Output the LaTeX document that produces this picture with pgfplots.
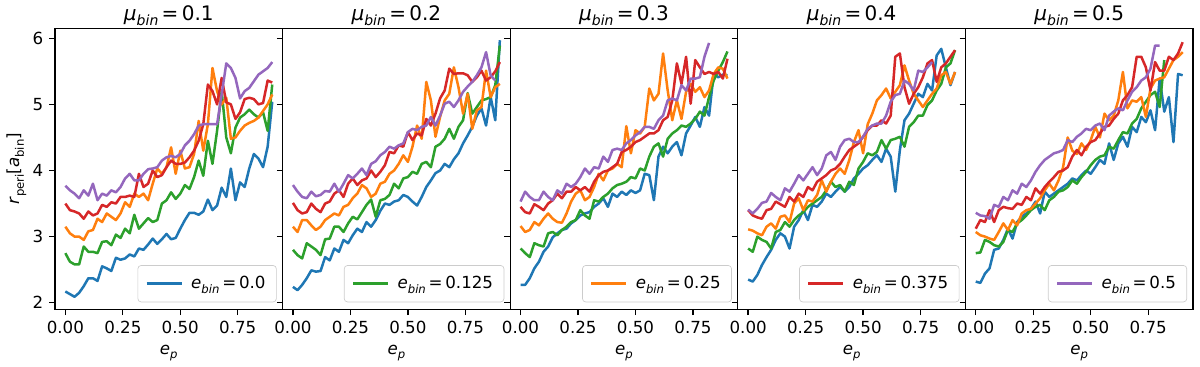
\documentclass[border=0pt]{standalone}
\usepackage{fontspec}
\setmainfont{DejaVu Sans}
\usepackage{graphicx}
\usepackage{pgfplots}
\usepackage{pgfplotstable}
\pgfplotsset{compat=1.18}
\usepgfplotslibrary{groupplots}
\usetikzlibrary{calc}

\definecolor{cb}{HTML}{1F77B4}
\definecolor{co}{HTML}{FF7F0E}
\definecolor{cg}{HTML}{2CA02C}
\definecolor{cr}{HTML}{D62728}
\definecolor{cp}{HTML}{9467BD}

\newcommand{\sub}[1]{\raisebox{-0.5ex}{\scalebox{0.7}{#1}}}
\newcommand{\ebin}[1]{\textit{e}\sub{\textit{bin}}\,=\,#1}
\newcommand{\mubin}[1]{\textit{μ}\sub{\textit{bin}}\,=\,#1}

% columns: e_p, then r_peri for e_bin = 0.0 (b), 0.125 (g), 0.25 (o), 0.375 (r), 0.5 (p)
\pgfplotstableread{
x b g o r p
0.00 2.17 2.75 3.15 3.50 3.77
0.02 2.13 2.62 3.05 3.40 3.70
0.04 2.09 2.58 3.00 3.38 3.65
0.06 2.15 2.58 3.00 3.35 3.58
0.08 2.25 2.85 2.95 3.27 3.70
0.10 2.37 2.77 3.08 3.38 3.62
0.12 2.37 2.77 3.10 3.32 3.80
0.14 2.33 2.75 3.27 3.35 3.55
0.16 2.55 2.92 3.22 3.48 3.65
0.18 2.52 2.93 3.35 3.45 3.62
0.20 2.48 2.87 3.30 3.52 3.70
0.22 2.68 3.03 3.25 3.50 3.67
0.24 2.65 2.98 3.35 3.60 3.75
0.26 2.67 3.12 3.52 3.60 3.88
0.28 2.73 3.05 3.45 3.62 3.95
0.30 2.70 3.33 3.65 3.60 3.85
0.32 2.82 3.12 3.60 3.95 3.85
0.34 2.80 3.20 3.65 3.75 3.95
0.36 2.88 3.28 3.55 3.80 4.02
0.38 2.97 3.22 3.80 4.00 4.03
0.40 2.89 3.25 4.03 3.90 4.05
0.42 2.96 3.50 3.95 3.93 4.15
0.44 3.04 3.55 4.05 4.05 4.20
0.46 2.96 3.67 4.35 4.15 4.22
0.48 2.98 3.57 3.95 4.10 4.20
0.50 3.12 3.65 4.30 4.10 4.25
0.52 3.25 3.78 4.03 4.12 4.38
0.54 3.36 3.72 4.05 4.20 4.45
0.56 3.36 3.90 4.25 4.30 4.55
0.58 3.33 4.15 4.75 4.45 4.68
0.60 3.38 3.92 4.30 4.70 4.70
0.62 3.56 4.45 4.70 5.30 4.70
0.64 3.40 4.10 5.55 5.20 4.70
0.66 3.47 4.60 5.20 5.00 4.70
0.68 3.74 5.20 5.00 5.40 5.15
0.70 3.60 4.50 5.10 5.03 5.62
0.72 4.03 4.26 4.48 5.00 5.55
0.74 3.55 4.65 4.50 4.78 5.40
0.76 3.82 4.80 4.60 4.88 5.09
0.78 3.75 4.85 4.68 5.08 5.20
0.80 4.03 4.92 4.72 5.10 5.25
0.82 4.25 4.85 4.75 5.08 5.35
0.84 4.18 4.80 4.80 5.00 5.45
0.86 4.05 4.88 4.90 5.02 5.50
0.88 4.36 4.60 5.00 5.36 5.55
0.90 5.04 5.30 5.15 5.33 5.64
}\muA

\pgfplotstableread{
x b g o r p
0.00 2.24 2.80 3.15 3.51 3.78
0.02 2.19 2.72 3.07 3.40 3.68
0.04 2.27 2.67 3.25 3.35 3.60
0.06 2.37 2.90 3.25 3.37 3.58
0.08 2.49 2.85 3.17 3.50 3.68
0.10 2.47 2.80 3.10 3.42 3.61
0.12 2.48 2.72 3.15 3.37 3.63
0.14 2.69 2.96 3.25 3.50 3.69
0.16 2.64 2.97 3.30 3.53 3.68
0.18 2.82 3.15 3.35 3.65 3.80
0.20 2.77 3.15 3.32 3.70 3.68
0.22 2.95 3.07 3.45 3.60 3.80
0.24 2.90 3.20 3.48 3.80 3.93
0.26 3.02 3.30 3.58 3.88 3.88
0.28 3.12 3.26 3.65 3.78 3.95
0.30 3.07 3.37 3.78 3.85 4.03
0.32 3.22 3.48 3.73 3.88 3.93
0.34 3.15 3.56 3.60 4.00 4.10
0.36 3.25 3.30 3.65 3.90 4.14
0.38 3.39 3.55 3.80 3.98 4.23
0.40 3.50 3.57 3.83 4.08 4.28
0.42 3.48 3.63 3.95 4.28 4.36
0.44 3.53 3.80 4.00 4.26 4.33
0.46 3.55 3.73 4.10 4.38 4.38
0.48 3.63 3.88 4.23 4.36 4.41
0.50 3.60 3.90 4.13 4.58 4.58
0.52 3.53 3.98 4.36 4.46 4.63
0.54 3.47 3.95 4.68 4.56 4.61
0.56 3.60 4.10 4.48 4.53 4.66
0.58 3.75 4.13 5.34 4.78 4.68
0.60 3.85 4.05 5.06 4.68 4.81
0.62 3.96 4.36 4.51 4.86 4.68
0.64 4.00 4.40 4.81 5.09 4.83
0.66 4.10 4.48 5.06 5.21 5.01
0.68 4.05 4.63 5.16 5.54 5.04
0.70 4.17 4.48 5.56 5.46 4.96
0.72 4.26 4.66 5.26 5.47 5.06
0.74 4.41 4.76 4.86 5.47 5.19
0.76 4.53 5.17 5.16 5.44 5.27
0.78 4.66 4.86 4.63 5.34 5.34
0.80 4.83 4.96 4.91 5.41 5.44
0.82 4.94 5.06 4.96 5.51 5.56
0.84 4.68 5.08 5.51 5.36 5.79
0.86 5.11 5.11 5.11 5.41 5.44
0.88 4.76 5.29 5.26 5.50 5.36
0.90 5.97 5.89 5.31 5.64 nan
}\muB

\pgfplotstableread{
x b g o r p
0.00 2.27 2.82 3.16 3.45 3.53
0.02 2.27 2.75 3.07 3.37 3.68
0.04 2.37 2.69 3.10 3.35 3.60
0.06 2.52 2.90 3.22 3.49 3.55
0.08 2.62 2.87 3.17 3.45 3.55
0.10 2.77 2.85 3.27 3.40 3.68
0.12 2.85 3.05 3.35 3.50 3.60
0.14 2.99 3.07 3.27 3.55 3.55
0.16 3.05 3.02 3.22 3.65 3.70
0.18 3.10 3.10 3.21 3.58 3.65
0.20 3.12 3.15 3.35 3.68 3.80
0.22 3.20 3.22 3.53 3.68 3.75
0.24 3.25 3.25 3.65 3.75 3.80
0.26 3.32 3.40 3.70 3.70 3.90
0.28 3.35 3.32 3.55 3.75 4.03
0.30 3.37 3.27 3.60 3.68 3.95
0.32 3.45 3.55 3.75 3.83 4.05
0.34 3.50 3.53 3.95 3.93 4.03
0.36 3.58 3.60 3.85 3.98 4.21
0.38 3.45 3.65 4.00 4.00 4.13
0.40 3.65 3.73 4.03 4.05 4.31
0.42 3.60 3.78 4.10 4.10 4.33
0.44 3.68 3.80 4.05 4.28 4.31
0.46 3.63 3.83 4.67 4.31 4.41
0.48 3.70 3.90 4.26 4.36 4.46
0.50 3.66 3.88 4.61 4.43 4.53
0.52 3.70 4.03 4.56 4.46 4.58
0.54 3.95 4.00 4.66 4.51 4.66
0.56 3.93 4.21 5.24 4.56 4.66
0.58 3.55 4.36 5.06 4.56 4.63
0.60 4.21 4.41 5.16 4.61 4.76
0.62 4.36 4.21 5.77 4.76 4.83
0.64 4.26 4.48 5.21 4.81 5.06
0.66 4.36 4.56 4.76 5.06 5.09
0.68 4.43 4.61 5.06 5.62 5.06
0.70 4.23 4.68 4.78 5.31 5.29
0.72 4.56 4.66 5.19 5.72 5.21
0.74 4.68 4.71 5.31 5.01 5.39
0.76 4.81 4.78 5.19 5.67 5.39
0.78 4.66 4.89 5.26 5.56 5.41
0.80 4.96 4.83 5.11 5.46 5.72
0.82 4.83 5.11 5.21 5.49 5.93
0.84 5.46 5.36 5.46 5.46 nan
0.86 5.41 5.51 5.56 5.49 nan
0.88 5.45 5.64 5.54 5.39 nan
0.90 5.44 5.80 5.39 5.69 nan
}\muC

\pgfplotstableread{
x b g o r p
0.00 2.35 2.82 3.11 3.40 3.41
0.02 2.32 2.77 3.09 3.32 3.35
0.04 2.42 3.00 3.05 3.29 3.42
0.06 2.57 2.95 3.02 3.27 3.51
0.08 2.69 2.92 3.15 3.40 3.53
0.10 2.80 2.82 3.20 3.42 3.66
0.12 2.95 3.07 3.12 3.53 3.60
0.14 3.05 3.10 3.30 3.49 3.55
0.16 3.00 3.22 3.32 3.45 3.73
0.18 2.82 3.15 3.22 3.60 3.68
0.20 3.15 3.25 3.50 3.53 3.80
0.22 3.25 3.32 3.58 3.65 3.93
0.24 3.40 3.37 3.40 3.60 3.85
0.26 3.25 3.45 3.55 3.75 3.95
0.28 3.48 3.50 3.53 3.70 4.05
0.30 3.45 3.55 3.63 3.83 3.93
0.32 3.53 3.60 3.85 3.88 4.03
0.34 3.65 3.70 3.68 3.93 4.23
0.36 3.60 3.83 3.83 4.00 4.28
0.38 3.68 3.75 3.95 4.03 4.16
0.40 3.75 3.78 4.03 4.10 4.36
0.42 3.68 3.68 3.95 4.21 4.46
0.44 3.75 3.83 4.16 4.31 4.48
0.46 3.88 3.78 4.43 4.36 4.43
0.48 3.95 4.03 4.61 4.41 4.43
0.50 4.03 4.13 4.26 4.51 4.51
0.52 4.08 4.26 4.70 4.61 4.63
0.54 4.16 4.23 4.86 4.68 4.68
0.56 4.23 4.28 5.06 4.68 4.71
0.58 4.13 4.46 5.14 4.76 4.71
0.60 4.33 4.33 5.24 4.71 4.83
0.62 4.21 4.46 5.09 4.83 5.04
0.64 3.68 4.48 5.19 5.72 5.14
0.66 4.31 4.51 5.29 5.77 5.16
0.68 4.76 4.36 5.59 5.26 5.36
0.70 4.86 4.66 5.36 5.01 5.31
0.72 5.01 4.73 5.16 5.16 5.21
0.74 5.16 4.83 5.06 5.26 5.51
0.76 5.11 4.83 4.96 5.41 5.49
0.78 5.31 4.99 5.06 5.62 5.56
0.80 5.21 5.06 5.16 5.67 5.64
0.82 5.74 5.21 5.24 5.34 nan
0.84 5.84 5.31 5.44 5.56 nan
0.86 5.56 5.56 5.49 5.62 nan
0.88 5.29 5.62 5.31 5.72 nan
0.90 5.49 5.82 5.49 5.82 nan
}\muD

\pgfplotstableread{
x b g o r p
0.00 2.32 2.75 3.07 3.12 3.36
0.02 2.30 2.76 3.02 3.25 3.32
0.04 2.44 2.95 3.00 3.22 3.31
0.06 2.52 2.92 2.97 3.40 3.27
0.08 2.80 2.87 2.95 3.22 3.48
0.10 2.82 2.85 3.07 3.40 3.45
0.12 2.95 2.92 3.20 3.45 3.60
0.14 3.12 3.10 3.10 3.43 3.55
0.16 2.97 3.07 3.25 3.42 3.70
0.18 3.22 3.20 3.17 3.50 3.65
0.20 3.30 3.25 3.35 3.48 3.80
0.22 3.35 3.32 3.40 3.60 3.75
0.24 3.42 3.40 3.42 3.55 3.85
0.26 3.53 3.45 3.50 3.73 3.98
0.28 3.35 3.48 3.58 3.65 4.08
0.30 3.68 3.40 3.70 3.75 4.16
0.32 3.60 3.55 3.80 3.83 4.21
0.34 3.65 3.60 3.70 3.90 4.26
0.36 3.70 3.68 3.85 3.98 4.28
0.38 3.75 3.70 4.05 4.00 4.31
0.40 3.80 3.75 4.50 4.05 4.46
0.42 3.88 3.85 4.30 4.21 4.43
0.44 3.85 3.80 4.25 4.31 4.51
0.46 3.93 3.90 4.41 4.23 4.56
0.48 4.00 3.98 4.31 4.36 4.63
0.50 3.95 4.08 4.46 4.43 4.61
0.52 4.05 4.16 4.66 4.46 4.68
0.54 4.16 4.21 4.50 4.56 4.71
0.56 4.10 4.23 4.86 4.66 4.61
0.58 4.41 4.36 4.76 4.68 4.83
0.60 4.16 4.33 4.83 4.78 4.89
0.62 4.41 4.46 5.06 4.86 4.94
0.64 4.51 4.58 5.49 5.06 4.91
0.66 4.36 4.56 4.94 5.14 5.06
0.68 4.66 4.71 5.06 5.26 5.19
0.70 4.58 4.78 5.04 5.72 5.26
0.72 4.81 4.94 5.11 5.72 5.36
0.74 4.73 5.04 4.81 5.56 5.41
0.76 4.91 5.14 5.24 5.21 5.54
0.78 4.61 5.19 5.36 5.64 5.89
0.80 5.39 4.96 5.39 5.51 5.89
0.82 4.89 5.67 5.41 5.51 nan
0.84 5.11 nan 5.54 5.72 nan
0.86 4.43 nan 5.67 5.67 nan
0.88 5.46 nan 5.72 5.77 nan
0.90 5.44 nan 5.79 5.94 nan
}\muE

\begin{document}
\begin{tikzpicture}
\begin{groupplot}[
    group style={group size=5 by 1, horizontal sep=0pt, y descriptions at=edge left},
    scale only axis,
    width=136.56pt, height=168.6pt,
    xmin=-0.045, xmax=0.945,
    ymin=1.9, ymax=6.15,
    xtick={0,0.25,0.5,0.75},
    ytick={2,3,4,5,6},
    xticklabel style={/pgf/number format/fixed, /pgf/number format/fixed zerofill, /pgf/number format/precision=2},
    /pgf/number format/assume math mode=true,
    tick align=outside, tick pos=left,
    major tick length=3.5pt,
    every tick/.style={black, line width=0.8pt},
    axis line style={line width=0.8pt},
    tick label style={font=\fontsize{10}{12}\selectfont},
    label style={font=\fontsize{10}{12}\selectfont},
    every axis title/.style={at={(0.5,1)}, anchor=base, yshift=5pt,
        font=\fontsize{12}{14}\selectfont},
    xlabel={\textit{e}\sub{\textit{p}}},
    ylabel={\textit{r}\sub{peri}[\textit{a}\sub{bin}]},
    ylabel shift=-3pt,
    legend style={at={(0.974,0.025)}, anchor=south east, draw=black!20,
        rounded corners=2pt, fill=white, fill opacity=0.8, text opacity=1,
        font=\fontsize{10}{12}\selectfont, inner xsep=4.5pt, inner ysep=4.5pt,
        /tikz/every odd column/.append style={column sep=3pt}},
    legend image code/.code={\draw[#1] (0pt,0pt) -- (21pt,0pt);},
    every axis plot/.append style={line width=1.5pt, line join=round},
]
\nextgroupplot[title={\mubin{0.1}}]
\coordinate (bl) at (rel axis cs:0,0);
\addplot[cb] table[x=x, y=b] {\muA};
\addlegendentry{\ebin{0.0}}
\addplot[cg, forget plot] table[x=x, y=g] {\muA};
\addplot[co, forget plot] table[x=x, y=o] {\muA};
\addplot[cr, forget plot] table[x=x, y=r] {\muA};
\addplot[cp, forget plot] table[x=x, y=p] {\muA};

\nextgroupplot[title={\mubin{0.2}}]
\addplot[cb, forget plot] table[x=x, y=b] {\muB};
\addplot[cg] table[x=x, y=g] {\muB};
\addlegendentry{\ebin{0.125}}
\addplot[co, forget plot] table[x=x, y=o] {\muB};
\addplot[cr, forget plot] table[x=x, y=r] {\muB};
\addplot[cp, forget plot] table[x=x, y=p] {\muB};

\nextgroupplot[title={\mubin{0.3}}]
\addplot[cb, forget plot] table[x=x, y=b] {\muC};
\addplot[cg, forget plot] table[x=x, y=g] {\muC};
\addplot[co] table[x=x, y=o] {\muC};
\addlegendentry{\ebin{0.25}}
\addplot[cr, forget plot] table[x=x, y=r] {\muC};
\addplot[cp, forget plot] table[x=x, y=p] {\muC};

\nextgroupplot[title={\mubin{0.4}}]
\addplot[cb, forget plot] table[x=x, y=b] {\muD};
\addplot[cg, forget plot] table[x=x, y=g] {\muD};
\addplot[co, forget plot] table[x=x, y=o] {\muD};
\addplot[cr] table[x=x, y=r] {\muD};
\addlegendentry{\ebin{0.375}}
\addplot[cp, forget plot] table[x=x, y=p] {\muD};

\nextgroupplot[title={\mubin{0.5}}]
\coordinate (tr) at (rel axis cs:1,1);
\addplot[cb, forget plot] table[x=x, y=b] {\muE};
\addplot[cg, forget plot] table[x=x, y=g] {\muE};
\addplot[co, forget plot] table[x=x, y=o] {\muE};
\addplot[cr, forget plot] table[x=x, y=r] {\muE};
\addplot[cp] table[x=x, y=p] {\muE};
\addlegendentry{\ebin{0.5}}
\end{groupplot}
\pgfresetboundingbox
\path ($(bl)+(-33pt,-34pt)$) rectangle ($(tr)+(4.2pt,17pt)$);
\end{tikzpicture}
\end{document}
